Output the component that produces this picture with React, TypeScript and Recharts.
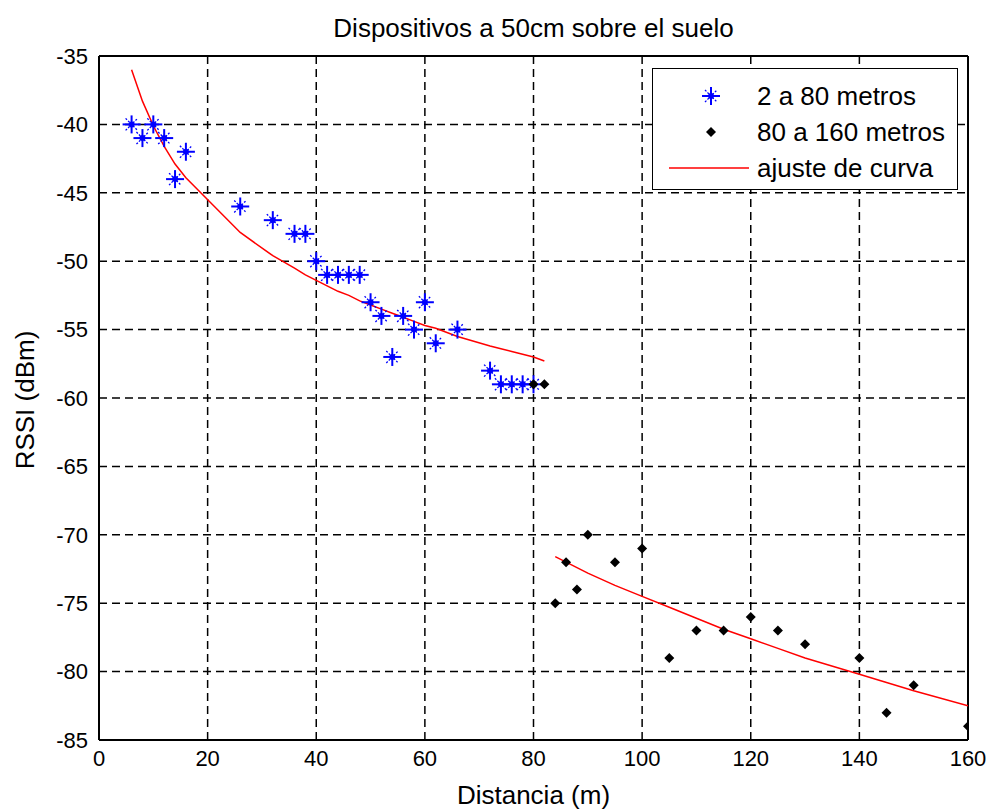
import React from 'react';
import {
  ComposedChart,
  Scatter,
  XAxis,
  YAxis,
  CartesianGrid,
} from 'recharts';

// medidas 2 a 80 m
const nearDist = [6, 8, 10, 12, 14, 16, 26, 32, 36, 38, 40, 42, 44, 46, 48, 50, 52, 54, 56, 58, 60, 62, 66, 72, 74, 76, 78, 80];
const nearRssi = [-40, -41, -40, -41, -44, -42, -46, -47, -48, -48, -50, -51, -51, -51, -51, -53, -54, -57, -54, -55, -53, -56, -55, -58, -59, -59, -59, -59];

// medidas 80 a 160 m
const farDist = [80, 82, 84, 86, 88, 90, 95, 100, 105, 110, 115, 120, 125, 130, 140, 145, 150, 160];
const farRssi = [-59, -59, -75, -72, -74, -70, -72, -71, -79, -77, -77, -76, -77, -78, -79, -83, -81, -84];

// ajuste de curva
const fitNearDist = [6, 8, 10, 12, 14, 16, 26, 32, 36, 38, 40, 42, 44, 46, 48, 50, 52, 54, 56, 58, 60, 62, 66, 72, 74, 76, 78, 80, 82];
const fitNearRssi = [-36.0, -38.3, -40.1, -41.6, -42.9, -43.9, -47.9, -49.6, -50.5, -51.0, -51.4, -51.8, -52.2, -52.5, -52.9, -53.2, -53.5, -53.8, -54.1, -54.4, -54.7, -54.9, -55.5, -56.2, -56.4, -56.6, -56.8, -57.0, -57.3];
const fitFarDist = [84, 86, 88, 90, 95, 100, 105, 110, 115, 120, 125, 130, 140, 145, 150, 160];
const fitFarRssi = [-71.6, -72.0, -72.4, -72.8, -73.7, -74.5, -75.3, -76.1, -76.9, -77.6, -78.3, -79.0, -80.2, -80.8, -81.4, -82.5];

const xTicks = [0, 20, 40, 60, 80, 100, 120, 140, 160];
const yTicks = [-85, -80, -75, -70, -65, -60, -55, -50, -45, -40, -35];

const zip = (xs: number[], ys: number[]) => xs.map((x, i) => ({ x, y: ys[i] }));

const nearData = zip(nearDist, nearRssi);
const farData = zip(farDist, farRssi);
const fitNear = zip(fitNearDist, fitNearRssi);
const fitFar = zip(fitFarDist, fitFarRssi);

const FONT = '"Liberation Sans", Arial, sans-serif';

const Star = (props: any) => {
  const { cx, cy } = props;
  if (cx == null || cy == null) return null;
  const a = 9;
  const b = 6;
  return (
    <g stroke="#0000ff" fill="#0000ff">
      <line x1={cx - a} y1={cy} x2={cx + a} y2={cy} strokeWidth={2} />
      <line x1={cx} y1={cy - a} x2={cx} y2={cy + a} strokeWidth={2} />
      <line x1={cx - b} y1={cy - b} x2={cx + b} y2={cy + b} strokeWidth={1.3} strokeDasharray="2 1.5" />
      <line x1={cx - b} y1={cy + b} x2={cx + b} y2={cy - b} strokeWidth={1.3} strokeDasharray="2 1.5" />
      <circle cx={cx} cy={cy} r={3} stroke="none" />
    </g>
  );
};

const Diamond = (props: any) => {
  const { cx, cy } = props;
  if (cx == null || cy == null) return null;
  const s = 5;
  return <polygon points={`${cx},${cy - s} ${cx + s},${cy} ${cx},${cy + s} ${cx - s},${cy}`} fill="#000" />;
};

const NoDot = () => null;

const LegendBox = () => (
  <div
    style={{
      position: 'absolute',
      left: 652,
      top: 68,
      width: 304,
      height: 120,
      border: '1.5px solid #000',
      background: '#fff',
      fontFamily: FONT,
      fontSize: 26,
      color: '#000',
    }}
  >
    <svg width={100} height={120} style={{ position: 'absolute', left: 0, top: 0 }}>
      <Star cx={58} cy={27} />
      <Diamond cx={58} cy={63} />
      <line x1={16} y1={99} x2={96} y2={99} stroke="#ff0000" strokeWidth={1.5} />
    </svg>
    <div style={{ position: 'absolute', left: 104, top: 9, lineHeight: '36px', whiteSpace: 'nowrap' }}>
      <div>2 a 80 metros</div>
      <div>80 a 160 metros</div>
      <div>ajuste de curva</div>
    </div>
  </div>
);

const App = () => {
  return (
    <div style={{ position: 'absolute', left: 0, top: 0, width: 992, height: 811, background: '#fff' }}>
      <div
        style={{
          position: 'absolute',
          left: 99,
          width: 869,
          top: 13,
          textAlign: 'center',
          fontFamily: FONT,
          fontSize: 26,
          color: '#000',
        }}
      >
        Dispositivos a 50cm sobre el suelo
      </div>
      <div
        style={{
          position: 'absolute',
          left: 99,
          width: 869,
          top: 780,
          textAlign: 'center',
          fontFamily: FONT,
          fontSize: 26,
          color: '#000',
        }}
      >
        Distancia (m)
      </div>
      <div
        style={{
          position: 'absolute',
          left: 25,
          top: 400,
          transform: 'translate(-50%, -50%) rotate(-90deg)',
          whiteSpace: 'nowrap',
          fontFamily: FONT,
          fontSize: 26,
          color: '#000',
        }}
      >
        RSSI (dBm)
      </div>
      <ComposedChart
        width={992}
        height={811}
        margin={{ top: 56, right: 24, left: 0, bottom: 0 }}
        style={{ position: 'absolute', left: 0, top: 0 }}
      >
        <CartesianGrid stroke="#000" strokeWidth={1.5} strokeDasharray="8 5" />
        <XAxis
          type="number"
          dataKey="x"
          domain={[0, 160]}
          ticks={xTicks}
          height={71}
          tickLine={false}
          axisLine={false}
          tickMargin={4}
          tick={{ fontFamily: FONT, fontSize: 22, fill: '#000' }}
          allowDataOverflow
        />
        <XAxis xAxisId="bin" type="number" dataKey="x" domain={[0, 160]} ticks={xTicks} mirror orientation="bottom" tick={false} tickSize={8} stroke="#000" strokeWidth={2} />
        <XAxis xAxisId="tin" type="number" dataKey="x" domain={[0, 160]} ticks={xTicks} mirror orientation="top" tick={false} tickSize={8} stroke="#000" strokeWidth={2} />
        <YAxis
          type="number"
          dataKey="y"
          domain={[-85, -35]}
          ticks={yTicks}
          width={99}
          tickLine={false}
          axisLine={false}
          tickMargin={5}
          tick={{ fontFamily: FONT, fontSize: 22, fill: '#000' }}
          allowDataOverflow
        />
        <YAxis yAxisId="lin" type="number" dataKey="y" domain={[-85, -35]} ticks={yTicks} mirror orientation="left" tick={false} tickSize={8} stroke="#000" strokeWidth={2} />
        <YAxis yAxisId="rin" type="number" dataKey="y" domain={[-85, -35]} ticks={yTicks} mirror orientation="right" tick={false} tickSize={8} stroke="#000" strokeWidth={2} />
        <Scatter name="ajuste1" data={fitNear} line={{ stroke: '#ff0000', strokeWidth: 1.5 }} lineType="joint" shape={NoDot} isAnimationActive={false} />
        <Scatter name="ajuste2" data={fitFar} line={{ stroke: '#ff0000', strokeWidth: 1.5 }} lineType="joint" shape={NoDot} isAnimationActive={false} />
        <Scatter name="2 a 80 metros" data={nearData} shape={Star} isAnimationActive={false} />
        <Scatter name="80 a 160 metros" data={farData} shape={Diamond} isAnimationActive={false} />
      </ComposedChart>
      <LegendBox />
    </div>
  );
};

export default App;
